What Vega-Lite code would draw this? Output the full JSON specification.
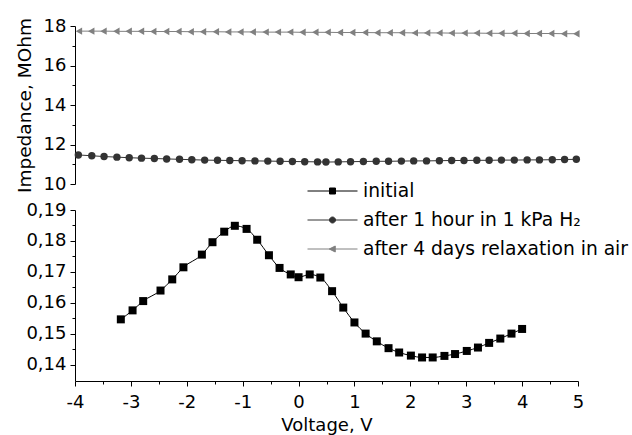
{
  "$schema": "https://vega.github.io/schema/vega-lite/v6.json",
  "background": "white",
  "padding": {"left": 15, "top": 17, "right": 5, "bottom": 5},
  "config": {
    "font": "DejaVu Sans",
    "view": {"stroke": null},
    "axis": {"grid": false, "domainColor": "black", "domainWidth": 1, "tickColor": "black", "tickWidth": 1, "labelColor": "black", "titleColor": "black", "labelFont": "DejaVu Sans", "titleFont": "DejaVu Sans", "titleFontWeight": "normal", "labelFontSize": 18, "labelOverlap": false}
  },
  "datasets": {
    "top": [
      {"series": "after 1 hour in 1 kPa H₂", "voltage": -3.94, "impedance": 11.47},
      {"series": "after 1 hour in 1 kPa H₂", "voltage": -3.70, "impedance": 11.43},
      {"series": "after 1 hour in 1 kPa H₂", "voltage": -3.48, "impedance": 11.39},
      {"series": "after 1 hour in 1 kPa H₂", "voltage": -3.25, "impedance": 11.36},
      {"series": "after 1 hour in 1 kPa H₂", "voltage": -3.03, "impedance": 11.33},
      {"series": "after 1 hour in 1 kPa H₂", "voltage": -2.81, "impedance": 11.31},
      {"series": "after 1 hour in 1 kPa H₂", "voltage": -2.58, "impedance": 11.29},
      {"series": "after 1 hour in 1 kPa H₂", "voltage": -2.36, "impedance": 11.27},
      {"series": "after 1 hour in 1 kPa H₂", "voltage": -2.13, "impedance": 11.25},
      {"series": "after 1 hour in 1 kPa H₂", "voltage": -1.91, "impedance": 11.23},
      {"series": "after 1 hour in 1 kPa H₂", "voltage": -1.68, "impedance": 11.21},
      {"series": "after 1 hour in 1 kPa H₂", "voltage": -1.45, "impedance": 11.20},
      {"series": "after 1 hour in 1 kPa H₂", "voltage": -1.23, "impedance": 11.19},
      {"series": "after 1 hour in 1 kPa H₂", "voltage": -1.01, "impedance": 11.18},
      {"series": "after 1 hour in 1 kPa H₂", "voltage": -0.78, "impedance": 11.17},
      {"series": "after 1 hour in 1 kPa H₂", "voltage": -0.55, "impedance": 11.16},
      {"series": "after 1 hour in 1 kPa H₂", "voltage": -0.33, "impedance": 11.15},
      {"series": "after 1 hour in 1 kPa H₂", "voltage": -0.11, "impedance": 11.14},
      {"series": "after 1 hour in 1 kPa H₂", "voltage": 0.11, "impedance": 11.13},
      {"series": "after 1 hour in 1 kPa H₂", "voltage": 0.34, "impedance": 11.12},
      {"series": "after 1 hour in 1 kPa H₂", "voltage": 0.49, "impedance": 11.11},
      {"series": "after 1 hour in 1 kPa H₂", "voltage": 0.71, "impedance": 11.12},
      {"series": "after 1 hour in 1 kPa H₂", "voltage": 0.93, "impedance": 11.13},
      {"series": "after 1 hour in 1 kPa H₂", "voltage": 1.16, "impedance": 11.14},
      {"series": "after 1 hour in 1 kPa H₂", "voltage": 1.39, "impedance": 11.15},
      {"series": "after 1 hour in 1 kPa H₂", "voltage": 1.61, "impedance": 11.15},
      {"series": "after 1 hour in 1 kPa H₂", "voltage": 1.84, "impedance": 11.16},
      {"series": "after 1 hour in 1 kPa H₂", "voltage": 2.06, "impedance": 11.17},
      {"series": "after 1 hour in 1 kPa H₂", "voltage": 2.29, "impedance": 11.17},
      {"series": "after 1 hour in 1 kPa H₂", "voltage": 2.52, "impedance": 11.18},
      {"series": "after 1 hour in 1 kPa H₂", "voltage": 2.74, "impedance": 11.19},
      {"series": "after 1 hour in 1 kPa H₂", "voltage": 2.96, "impedance": 11.19},
      {"series": "after 1 hour in 1 kPa H₂", "voltage": 3.19, "impedance": 11.20},
      {"series": "after 1 hour in 1 kPa H₂", "voltage": 3.41, "impedance": 11.20},
      {"series": "after 1 hour in 1 kPa H₂", "voltage": 3.63, "impedance": 11.21},
      {"series": "after 1 hour in 1 kPa H₂", "voltage": 3.86, "impedance": 11.21},
      {"series": "after 1 hour in 1 kPa H₂", "voltage": 4.09, "impedance": 11.22},
      {"series": "after 1 hour in 1 kPa H₂", "voltage": 4.31, "impedance": 11.22},
      {"series": "after 1 hour in 1 kPa H₂", "voltage": 4.54, "impedance": 11.23},
      {"series": "after 1 hour in 1 kPa H₂", "voltage": 4.76, "impedance": 11.24},
      {"series": "after 1 hour in 1 kPa H₂", "voltage": 4.97, "impedance": 11.25},
      {"series": "after 4 days relaxation in air", "voltage": -3.93, "impedance": 17.74},
      {"series": "after 4 days relaxation in air", "voltage": -3.71, "impedance": 17.74},
      {"series": "after 4 days relaxation in air", "voltage": -3.49, "impedance": 17.74},
      {"series": "after 4 days relaxation in air", "voltage": -3.26, "impedance": 17.73},
      {"series": "after 4 days relaxation in air", "voltage": -3.04, "impedance": 17.73},
      {"series": "after 4 days relaxation in air", "voltage": -2.82, "impedance": 17.73},
      {"series": "after 4 days relaxation in air", "voltage": -2.60, "impedance": 17.72},
      {"series": "after 4 days relaxation in air", "voltage": -2.37, "impedance": 17.72},
      {"series": "after 4 days relaxation in air", "voltage": -2.15, "impedance": 17.72},
      {"series": "after 4 days relaxation in air", "voltage": -1.93, "impedance": 17.71},
      {"series": "after 4 days relaxation in air", "voltage": -1.71, "impedance": 17.71},
      {"series": "after 4 days relaxation in air", "voltage": -1.48, "impedance": 17.71},
      {"series": "after 4 days relaxation in air", "voltage": -1.26, "impedance": 17.70},
      {"series": "after 4 days relaxation in air", "voltage": -1.04, "impedance": 17.70},
      {"series": "after 4 days relaxation in air", "voltage": -0.82, "impedance": 17.70},
      {"series": "after 4 days relaxation in air", "voltage": -0.59, "impedance": 17.69},
      {"series": "after 4 days relaxation in air", "voltage": -0.37, "impedance": 17.69},
      {"series": "after 4 days relaxation in air", "voltage": -0.15, "impedance": 17.69},
      {"series": "after 4 days relaxation in air", "voltage": 0.07, "impedance": 17.68},
      {"series": "after 4 days relaxation in air", "voltage": 0.30, "impedance": 17.68},
      {"series": "after 4 days relaxation in air", "voltage": 0.52, "impedance": 17.68},
      {"series": "after 4 days relaxation in air", "voltage": 0.74, "impedance": 17.67},
      {"series": "after 4 days relaxation in air", "voltage": 0.96, "impedance": 17.67},
      {"series": "after 4 days relaxation in air", "voltage": 1.19, "impedance": 17.67},
      {"series": "after 4 days relaxation in air", "voltage": 1.41, "impedance": 17.66},
      {"series": "after 4 days relaxation in air", "voltage": 1.63, "impedance": 17.66},
      {"series": "after 4 days relaxation in air", "voltage": 1.85, "impedance": 17.66},
      {"series": "after 4 days relaxation in air", "voltage": 2.08, "impedance": 17.65},
      {"series": "after 4 days relaxation in air", "voltage": 2.30, "impedance": 17.65},
      {"series": "after 4 days relaxation in air", "voltage": 2.52, "impedance": 17.65},
      {"series": "after 4 days relaxation in air", "voltage": 2.74, "impedance": 17.64},
      {"series": "after 4 days relaxation in air", "voltage": 2.97, "impedance": 17.64},
      {"series": "after 4 days relaxation in air", "voltage": 3.19, "impedance": 17.64},
      {"series": "after 4 days relaxation in air", "voltage": 3.41, "impedance": 17.63},
      {"series": "after 4 days relaxation in air", "voltage": 3.63, "impedance": 17.63},
      {"series": "after 4 days relaxation in air", "voltage": 3.86, "impedance": 17.63},
      {"series": "after 4 days relaxation in air", "voltage": 4.08, "impedance": 17.62},
      {"series": "after 4 days relaxation in air", "voltage": 4.30, "impedance": 17.62},
      {"series": "after 4 days relaxation in air", "voltage": 4.52, "impedance": 17.62},
      {"series": "after 4 days relaxation in air", "voltage": 4.75, "impedance": 17.61},
      {"series": "after 4 days relaxation in air", "voltage": 4.97, "impedance": 17.61}
    ],
    "bottom": [
      {"series": "initial", "voltage": -3.18, "impedance": 0.1547},
      {"series": "initial", "voltage": -2.97, "impedance": 0.1576},
      {"series": "initial", "voltage": -2.78, "impedance": 0.1606},
      {"series": "initial", "voltage": -2.47, "impedance": 0.1640},
      {"series": "initial", "voltage": -2.26, "impedance": 0.1676},
      {"series": "initial", "voltage": -2.06, "impedance": 0.1715},
      {"series": "initial", "voltage": -1.73, "impedance": 0.1756},
      {"series": "initial", "voltage": -1.54, "impedance": 0.1796},
      {"series": "initial", "voltage": -1.33, "impedance": 0.1830},
      {"series": "initial", "voltage": -1.14, "impedance": 0.1849},
      {"series": "initial", "voltage": -0.93, "impedance": 0.1839},
      {"series": "initial", "voltage": -0.74, "impedance": 0.1804},
      {"series": "initial", "voltage": -0.53, "impedance": 0.1754},
      {"series": "initial", "voltage": -0.34, "impedance": 0.1713},
      {"series": "initial", "voltage": -0.14, "impedance": 0.1692},
      {"series": "initial", "voltage": 0.00, "impedance": 0.1683},
      {"series": "initial", "voltage": 0.20, "impedance": 0.1692},
      {"series": "initial", "voltage": 0.39, "impedance": 0.1682},
      {"series": "initial", "voltage": 0.60, "impedance": 0.1638},
      {"series": "initial", "voltage": 0.80, "impedance": 0.1585},
      {"series": "initial", "voltage": 1.00, "impedance": 0.1537},
      {"series": "initial", "voltage": 1.20, "impedance": 0.1501},
      {"series": "initial", "voltage": 1.40, "impedance": 0.1476},
      {"series": "initial", "voltage": 1.61, "impedance": 0.1454},
      {"series": "initial", "voltage": 1.80, "impedance": 0.1440},
      {"series": "initial", "voltage": 2.01, "impedance": 0.1430},
      {"series": "initial", "voltage": 2.21, "impedance": 0.1424},
      {"series": "initial", "voltage": 2.40, "impedance": 0.1424},
      {"series": "initial", "voltage": 2.61, "impedance": 0.1429},
      {"series": "initial", "voltage": 2.80, "impedance": 0.1435},
      {"series": "initial", "voltage": 3.01, "impedance": 0.1445},
      {"series": "initial", "voltage": 3.21, "impedance": 0.1456},
      {"series": "initial", "voltage": 3.41, "impedance": 0.1471},
      {"series": "initial", "voltage": 3.61, "impedance": 0.1485},
      {"series": "initial", "voltage": 3.81, "impedance": 0.1501},
      {"series": "initial", "voltage": 4.00, "impedance": 0.1516}
    ]
  },
  "spacing": 26,
  "bounds": "flush",
  "resolve": {
    "scale": {"color": "independent", "shape": "independent", "stroke": "independent", "x": "independent", "y": "independent"},
    "legend": {"color": "independent", "shape": "independent", "stroke": "independent"}
  },
  "vconcat": [
    {
      "width": 503,
      "height": 158,
      "data": {"name": "top"},
      "encoding": {
        "x": {"field": "voltage", "type": "quantitative", "scale": {"domain": [-4, 5], "nice": false, "zero": false}, "axis": null},
        "y": {"field": "impedance", "type": "quantitative", "scale": {"domain": [10, 18], "nice": false, "zero": false},
          "axis": {"title": "Impedance, MOhm", "titleFontSize": 18.5, "titlePadding": 9, "labelPadding": 4,
            "values": [10, 11, 12, 13, 14, 15, 16, 17, 18],
            "labelExpr": "datum.value % 2 == 1 ? '' : toString(datum.value)",
            "tickSize": {"condition": {"test": "datum.value % 2 == 1", "value": 3}, "value": 5}}},
        "color": {"field": "series", "type": "nominal", "legend": null,
          "scale": {"domain": ["after 1 hour in 1 kPa H₂", "after 4 days relaxation in air"], "range": ["#333333", "#808080"]}}
      },
      "layer": [
        {"mark": {"type": "line", "strokeWidth": 1}},
        {"mark": {"type": "point", "filled": true, "opacity": 1, "size": 55},
          "encoding": {"shape": {"field": "series", "type": "nominal", "legend": null,
            "scale": {"domain": ["after 1 hour in 1 kPa H₂", "after 4 days relaxation in air"], "range": ["circle", "triangle-left"]}}}}
      ]
    },
    {
      "width": 503,
      "height": 171,
      "data": {"name": "bottom"},
      "encoding": {
        "x": {"field": "voltage", "type": "quantitative", "scale": {"domain": [-4, 5], "nice": false, "zero": false},
          "axis": {"title": "Voltage, V", "titleFontSize": 18, "titlePadding": 5, "labelPadding": 7, "labelFlush": false,
            "values": [-4, -3.5, -3, -2.5, -2, -1.5, -1, -0.5, 0, 0.5, 1, 1.5, 2, 2.5, 3, 3.5, 4, 4.5, 5],
            "labelExpr": "round(datum.value*2) % 2 != 0 ? '' : toString(datum.value)",
            "tickSize": {"condition": {"test": "round(datum.value*2) % 2 != 0", "value": 3}, "value": 5}}},
        "y": {"field": "impedance", "type": "quantitative", "scale": {"domain": [0.1348, 0.19], "nice": false, "zero": false},
          "axis": {"title": null, "labelPadding": 4,
            "values": [0.14, 0.145, 0.15, 0.155, 0.16, 0.165, 0.17, 0.175, 0.18, 0.185, 0.19],
            "labelExpr": "round(datum.value*200) % 2 == 1 ? '' : replace(format(datum.value, '.2f'), '.', ',')",
            "tickSize": {"condition": {"test": "round(datum.value*200) % 2 == 1", "value": 3}, "value": 5}}}
      },
      "layer": [
        {"mark": {"type": "line", "color": "black", "strokeWidth": 1, "interpolate": "monotone"}},
        {"mark": {"type": "point", "shape": "square", "color": "black", "filled": true, "opacity": 1, "size": 64}},
        {"mark": {"type": "point", "filled": true, "opacity": 0},
          "encoding": {
            "color": {"field": "series", "type": "nominal",
              "scale": {"domain": ["initial", "after 1 hour in 1 kPa H₂", "after 4 days relaxation in air"], "range": ["#000000", "#333333", "#808080"]},
              "legend": {"title": null, "orient": "none", "legendX": 232, "legendY": -32, "padding": 0, "symbolSize": 2500, "clipHeight": 26, "rowPadding": 3, "labelOffset": 5, "labelFont": "DejaVu Sans", "labelFontSize": 18.7, "labelColor": "black", "labelLimit": 400, "symbolStrokeWidth": 1, "symbolOpacity": 1}},
            "stroke": {"field": "series", "type": "nominal",
              "scale": {"domain": ["initial", "after 1 hour in 1 kPa H₂", "after 4 days relaxation in air"], "range": ["#000000", "#333333", "#808080"]},
              "legend": {"title": null, "orient": "none", "legendX": 232, "legendY": -32, "padding": 0, "symbolSize": 2500, "clipHeight": 26, "rowPadding": 3, "labelOffset": 5, "labelFont": "DejaVu Sans", "labelFontSize": 18.7, "labelColor": "black", "labelLimit": 400, "symbolStrokeWidth": 1, "symbolOpacity": 1}},
            "shape": {"field": "series", "type": "nominal",
              "scale": {"domain": ["initial", "after 1 hour in 1 kPa H₂", "after 4 days relaxation in air"],
                "range": ["M-1,0H1M-0.12,-0.12H0.12V0.12H-0.12Z", "M-1,0H1M0.12,0A0.12,0.12,0,1,1,-0.12,0A0.12,0.12,0,1,1,0.12,0Z", "M-1,0H1M-0.13,0L0.11,-0.12L0.11,0.12Z"]},
              "legend": {"title": null, "orient": "none", "legendX": 232, "legendY": -32, "padding": 0, "symbolSize": 2500, "clipHeight": 26, "rowPadding": 3, "labelOffset": 5, "labelFont": "DejaVu Sans", "labelFontSize": 18.7, "labelColor": "black", "labelLimit": 400, "symbolStrokeWidth": 1, "symbolOpacity": 1}}
          }}
      ]
    }
  ]
}
